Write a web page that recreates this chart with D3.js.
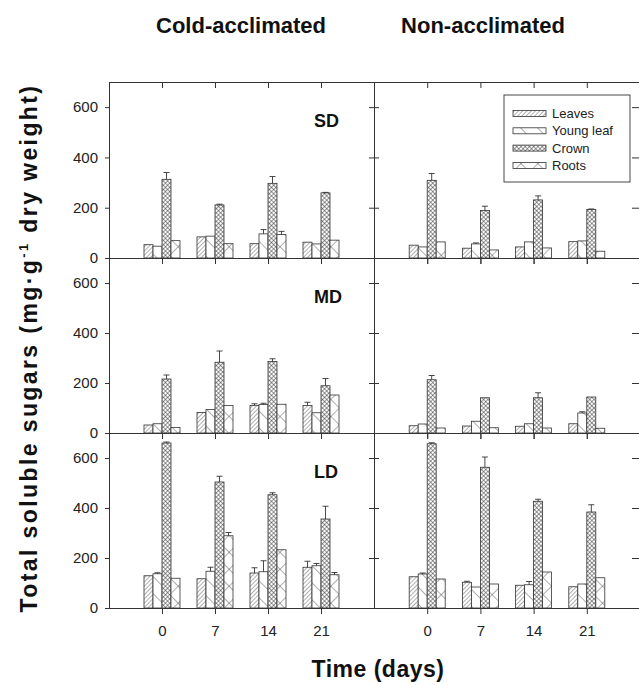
<!DOCTYPE html>
<html>
<head>
<meta charset="utf-8">
<script src="https://cdn.jsdelivr.net/npm/d3@7"></script>
<style>
  body { margin: 0; background: #fff; }
  svg { display: block; font-family: "Liberation Sans", Arial, sans-serif; }
</style>
</head>
<body>
<svg id="chart" width="639" height="685"></svg>
<script>
// ---- data ----
const days = [0, 7, 14, 21];
const tissues = ["Leaves", "Young leaf", "Crown", "Roots"];
const treatments = ["Cold-acclimated", "Non-acclimated"];
const photoperiods = ["SD", "MD", "LD"];
const yTicks = [0, 200, 400, 600];

// rows = days, columns = tissues (Leaves, Young leaf, Crown, Roots)
const coldSD = [[53, 47, 313, 69], [84, 87, 211, 57], [57, 96, 297, 93], [63, 56, 259, 71]];
const coldSDErr = [[0, 0, 27, 0], [0, 0, 3, 0], [0, 17, 27, 13], [0, 0, 2, 0]];
const coldMD = [[32, 37, 216, 22], [82, 94, 283, 110], [110, 114, 286, 115], [110, 81, 189, 152]];
const coldMDErr = [[0, 0, 16, 0], [0, 0, 45, 0], [7, 5, 11, 0], [13, 0, 29, 0]];
const coldLD = [[129, 137, 660, 119], [117, 147, 504, 289], [140, 145, 453, 233], [163, 169, 356, 133]];
const coldLDErr = [[0, 4, 4, 0], [0, 16, 23, 13], [21, 44, 8, 0], [24, 9, 51, 9]];
const nonSD = [[51, 44, 309, 64], [39, 56, 189, 32], [44, 64, 231, 40], [65, 68, 193, 27]];
const nonSDErr = [[0, 0, 27, 0], [0, 4, 17, 0], [0, 0, 16, 0], [0, 0, 2, 0]];
const nonMD = [[29, 36, 213, 20], [28, 47, 141, 21], [27, 37, 141, 20], [37, 80, 144, 19]];
const nonMDErr = [[0, 0, 17, 0], [0, 0, 0, 0], [0, 0, 20, 0], [0, 5, 0, 0]];
const nonLD = [[125, 136, 657, 116], [103, 84, 563, 96], [91, 93, 427, 144], [85, 96, 384, 121]];
const nonLDErr = [[0, 4, 4, 0], [4, 0, 41, 0], [0, 13, 8, 0], [0, 0, 29, 0]];

const panelData = {
  "Cold-acclimated": { SD: [coldSD, coldSDErr], MD: [coldMD, coldMDErr], LD: [coldLD, coldLDErr] },
  "Non-acclimated": { SD: [nonSD, nonSDErr], MD: [nonMD, nonMDErr], LD: [nonLD, nonLDErr] }
};

// ---- layout ----
const svg = d3.select("#chart");
const colX = { "Cold-acclimated": [109, 374], "Non-acclimated": [374, 640] };
const titleX = { "Cold-acclimated": 241, "Non-acclimated": 483 };
const rowY = { SD: [82, 258], MD: [258, 433], LD: [433, 608] };
const ink = "#333";

// hatch patterns
const defs = svg.append("defs");
function hatch(id, size, angle, cross, sw) {
  const p = defs.append("pattern")
    .attr("id", id)
    .attr("patternUnits", "userSpaceOnUse")
    .attr("width", size).attr("height", size)
    .attr("patternTransform", `rotate(${angle})`);
  p.append("rect").attr("width", size).attr("height", size).attr("fill", "#fff");
  p.append("line").attr("x1", 0).attr("y1", 0).attr("x2", 0).attr("y2", size)
    .attr("stroke", ink).attr("stroke-width", sw);
  if (cross) {
    p.append("line").attr("x1", 0).attr("y1", 0).attr("x2", size).attr("y2", 0)
      .attr("stroke", ink).attr("stroke-width", sw);
  }
}
hatch("pat-leaves", 3, 45, false, 0.8);
hatch("pat-young", 12, -45, false, 0.8);
hatch("pat-crown", 3, 45, true, 1);
hatch("pat-roots", 12, 45, true, 0.8);
const fills = ["url(#pat-leaves)", "url(#pat-young)", "url(#pat-crown)", "url(#pat-roots)"];

const offset = d3.scaleBand().domain(tissues).range([-18, 18]);

treatments.forEach((tr, ti) => {
  const [xa, xb] = colX[tr];
  const x = d3.scaleLinear().domain([0, 5]).range([xa, xb]);

  photoperiods.forEach((pp, pi) => {
    const [ya, yb] = rowY[pp];
    const y = d3.scaleLinear().domain([0, 700]).range([yb, ya]);
    const [vals, errs] = panelData[tr][pp];
    const g = svg.append("g");

    // bars
    days.forEach((d, di) => {
      tissues.forEach((t, k) => {
        const v = vals[di][k], e = errs[di][k];
        const bx = x(di + 1) + offset(t);
        const bw = offset.bandwidth();
        g.append("rect")
          .attr("x", bx).attr("y", y(v))
          .attr("width", bw).attr("height", y(0) - y(v))
          .attr("fill", fills[k])
          .attr("stroke", ink).attr("stroke-width", 0.8);
        if (e > 0) {
          const cx = bx + bw / 2;
          g.append("line").attr("x1", cx).attr("x2", cx)
            .attr("y1", y(v)).attr("y2", y(v + e))
            .attr("stroke", ink).attr("stroke-width", 0.9);
          g.append("line").attr("x1", cx - 3).attr("x2", cx + 3)
            .attr("y1", y(v + e)).attr("y2", y(v + e))
            .attr("stroke", ink).attr("stroke-width", 0.9);
        }
      });
    });

    // y axes: left side with labels on first column, plain ticks otherwise
    const leftAxis = d3.axisLeft(y).tickValues(yTicks).tickSize(ti === 0 ? 4 : 5)
      .tickFormat(ti === 0 ? d3.format("d") : "");
    const la = g.append("g").attr("transform", `translate(${xa},0)`).call(leftAxis);
    la.select(".domain").remove();
    la.selectAll("line").attr("stroke", ink);
    la.selectAll("text").attr("font-size", 15).attr("fill", "#222")
      .attr("font-family", "Liberation Sans, Arial, sans-serif").attr("dx", -4);

    const rightAxis = ti === 0
      ? d3.axisRight(y).tickValues(yTicks).tickSize(5).tickFormat("")
      : d3.axisLeft(y).tickValues(yTicks).tickSize(7).tickFormat("");
    const ra = g.append("g").attr("transform", `translate(${xb - (ti === 0 ? 0 : 1)},0)`).call(rightAxis);
    ra.select(".domain").remove();
    ra.selectAll("line").attr("stroke", ink);

    // x ticks at top (inward) and bottom (outward)
    const xTop = d3.axisBottom(x).tickValues([1, 2, 3, 4]).tickSize(6).tickFormat("");
    const xt = g.append("g").attr("transform", `translate(0,${ya})`).call(xTop);
    xt.select(".domain").remove();
    xt.selectAll("line").attr("stroke", ink);

    const xBottom = d3.axisBottom(x).tickValues([1, 2, 3, 4]).tickSize(6)
      .tickFormat(pi === 2 ? (i => days[i - 1]) : "");
    const xbG = g.append("g").attr("transform", `translate(0,${yb})`).call(xBottom);
    xbG.select(".domain").remove();
    xbG.selectAll("line").attr("stroke", ink);
    xbG.selectAll("text").attr("font-size", 15).attr("fill", "#222")
      .attr("font-family", "Liberation Sans, Arial, sans-serif").attr("dy", "1.25em");

    // frame lines
    g.append("line").attr("x1", xa).attr("x2", xb).attr("y1", yb + 0.5).attr("y2", yb + 0.5)
      .attr("stroke", ink).attr("stroke-width", 1);
    if (pi === 0) {
      g.append("line").attr("x1", xa).attr("x2", xb).attr("y1", ya + 0.5).attr("y2", ya + 0.5)
        .attr("stroke", ink).attr("stroke-width", 1);
    }
    g.append("line").attr("x1", xa + 0.5).attr("x2", xa + 0.5).attr("y1", ya).attr("y2", yb)
      .attr("stroke", ink).attr("stroke-width", 1);

    // photoperiod label in left column
    if (ti === 0) {
      g.append("text")
        .attr("x", x(4) - 7).attr("y", ya + 45)
        .attr("font-size", 18).attr("font-weight", "bold").attr("fill", "#111")
        .text(pp);
    }
  });
});

// column titles
svg.selectAll(".col-title")
  .data(treatments)
  .join("text")
  .attr("class", "col-title")
  .attr("x", d => titleX[d])
  .attr("y", 33)
  .attr("text-anchor", "middle")
  .attr("font-size", 22).attr("font-weight", "bold").attr("fill", "#111")
  .text(d => d);

// axis titles
svg.append("text")
  .attr("x", 378).attr("y", 677)
  .attr("text-anchor", "middle")
  .attr("font-size", 23).attr("font-weight", "bold").attr("fill", "#111")
  .attr("letter-spacing", 0.5)
  .text("Time (days)");

const yl = svg.append("text")
  .attr("transform", "translate(37,348) rotate(-90)")
  .attr("text-anchor", "middle")
  .attr("font-size", 23).attr("font-weight", "bold").attr("fill", "#111")
  .attr("letter-spacing", 2.4);
yl.append("tspan").text("Total soluble sugars (mg\u00b7g");
yl.append("tspan").attr("font-size", 13).attr("dy", -9).text("-1");
yl.append("tspan").attr("dy", 9).text(" dry weight)");

// legend
const lg = svg.append("g").attr("transform", "translate(504,95)");
lg.append("rect").attr("width", 126).attr("height", 87)
  .attr("fill", "#fff").attr("stroke", ink).attr("stroke-width", 0.9);
tissues.forEach((t, k) => {
  const yy = 18.5 + k * 17.3;
  lg.append("rect").attr("x", 9).attr("y", yy - 3).attr("width", 33).attr("height", 6)
    .attr("fill", fills[k]).attr("stroke", ink).attr("stroke-width", 0.8);
  lg.append("text").attr("x", 48).attr("y", yy + 4.5)
    .attr("font-size", 13).attr("fill", "#222").text(t);
});
</script>
</body>
</html>
